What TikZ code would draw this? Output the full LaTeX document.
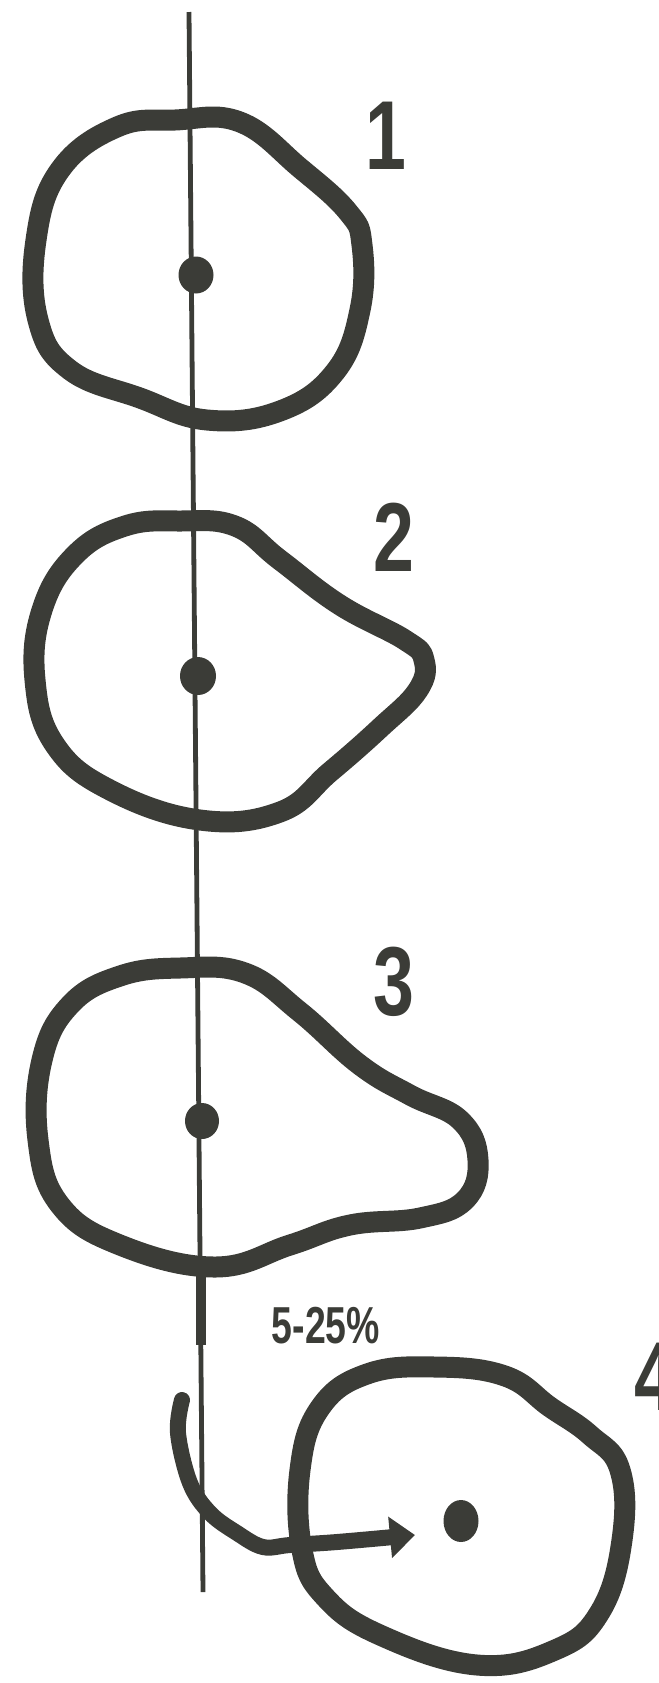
\documentclass[tikz,border=0pt]{standalone}
\usepackage{fontspec}
\setmainfont{Liberation Sans}
\usetikzlibrary{arrows.meta,shapes.geometric}
\definecolor{ink}{HTML}{3B3C37}

\begin{document}
\begin{tikzpicture}[x=0.5pt, y=-0.5pt, >={Triangle[length=12.5pt,width=20pt]},
  outline/.style={draw=ink, line width=10.5pt, line join=round},
  axisline/.style={draw=ink, line width=2.4pt},
  hook/.style={draw=ink, line width=8pt, line cap=round, ->},
  dot/.style={ellipse, fill=ink, inner sep=0pt, minimum width=17pt, minimum height=19pt},
  numlabel/.style={text=ink, font=\fontsize{49}{50}\selectfont\bfseries, xscale=0.75, inner sep=0pt},
  pctlabel/.style={text=ink, font=\fontsize{26}{28}\selectfont\bfseries, xscale=0.72, inner sep=0pt}]
  \useasboundingbox (0,0) rectangle (659,1683);

  \coordinate (axtop) at (189,12);
  \coordinate (axbot) at (203,1592);
  \draw[axisline] (axtop) -- (axbot);
  \draw[axisline, line width=5pt] (201,1272) -- (201,1345);

  \draw[outline] plot[smooth cycle, tension=0.7] coordinates {
    (175,120) (117,127) (60,170) (36,240) (38,320) (70,370) (140,398)
    (207,420) (280,411) (335,372) (360,310) (362,245) (348,212) (300,168)
    (240,122)};
  \draw[outline] plot[smooth cycle, tension=0.7] coordinates {
    (180,521) (125,526) (75,555) (42,610) (35,680) (55,745) (110,790)
    (200,820) (280,812) (330,772) (380,728) (418,690) (424,660) (405,640)
    (340,605) (280,560) (235,526)};
  \draw[outline] plot[smooth cycle, tension=0.7] coordinates {
    (180,968) (120,976) (70,1005) (42,1060) (38,1140) (60,1205) (120,1245)
    (215,1267) (290,1245) (350,1225) (420,1218) (465,1200) (478,1160)
    (460,1120) (410,1095) (360,1065) (300,1012) (245,973)};
  \draw[outline] plot[smooth cycle, tension=0.7] coordinates {
    (435,1367) (367,1374) (320,1408) (300,1470) (302,1550) (325,1597)
    (380,1635) (477,1665) (555,1650) (600,1612) (622,1540) (620,1470)
    (590,1435) (550,1407) (505,1376)};

  \node[dot, minimum width=17.5pt, minimum height=18.5pt] (d1) at (196,275) {};
  \node[dot, minimum width=18pt] (d2) at (198,676) {};
  \node[dot, minimum width=17pt, minimum height=18pt] (d3) at (202,1121) {};
  \node[dot, minimum width=17.5pt, minimum height=21pt] (d4) at (461,1521) {};

  \node[numlabel] (n1) at (386,136) {1};
  \node[numlabel] (n2) at (394,537) {2};
  \node[numlabel] (n3) at (394,982) {3};
  \node[numlabel, anchor=west] (n4) at (634,1377) {4};
  \node[pctlabel] (pct) at (326,1326) {5-25\%};

  \coordinate (hooktop) at (182,1400);
  \coordinate (arrtip) at (415,1535);
  \draw[hook] plot[smooth, tension=0.6] coordinates {
    (hooktop) (178,1433) (190,1483) (210,1513) (237,1533) (263,1547)
    (290,1545) (337,1542) (arrtip)};
\end{tikzpicture}
\end{document}
